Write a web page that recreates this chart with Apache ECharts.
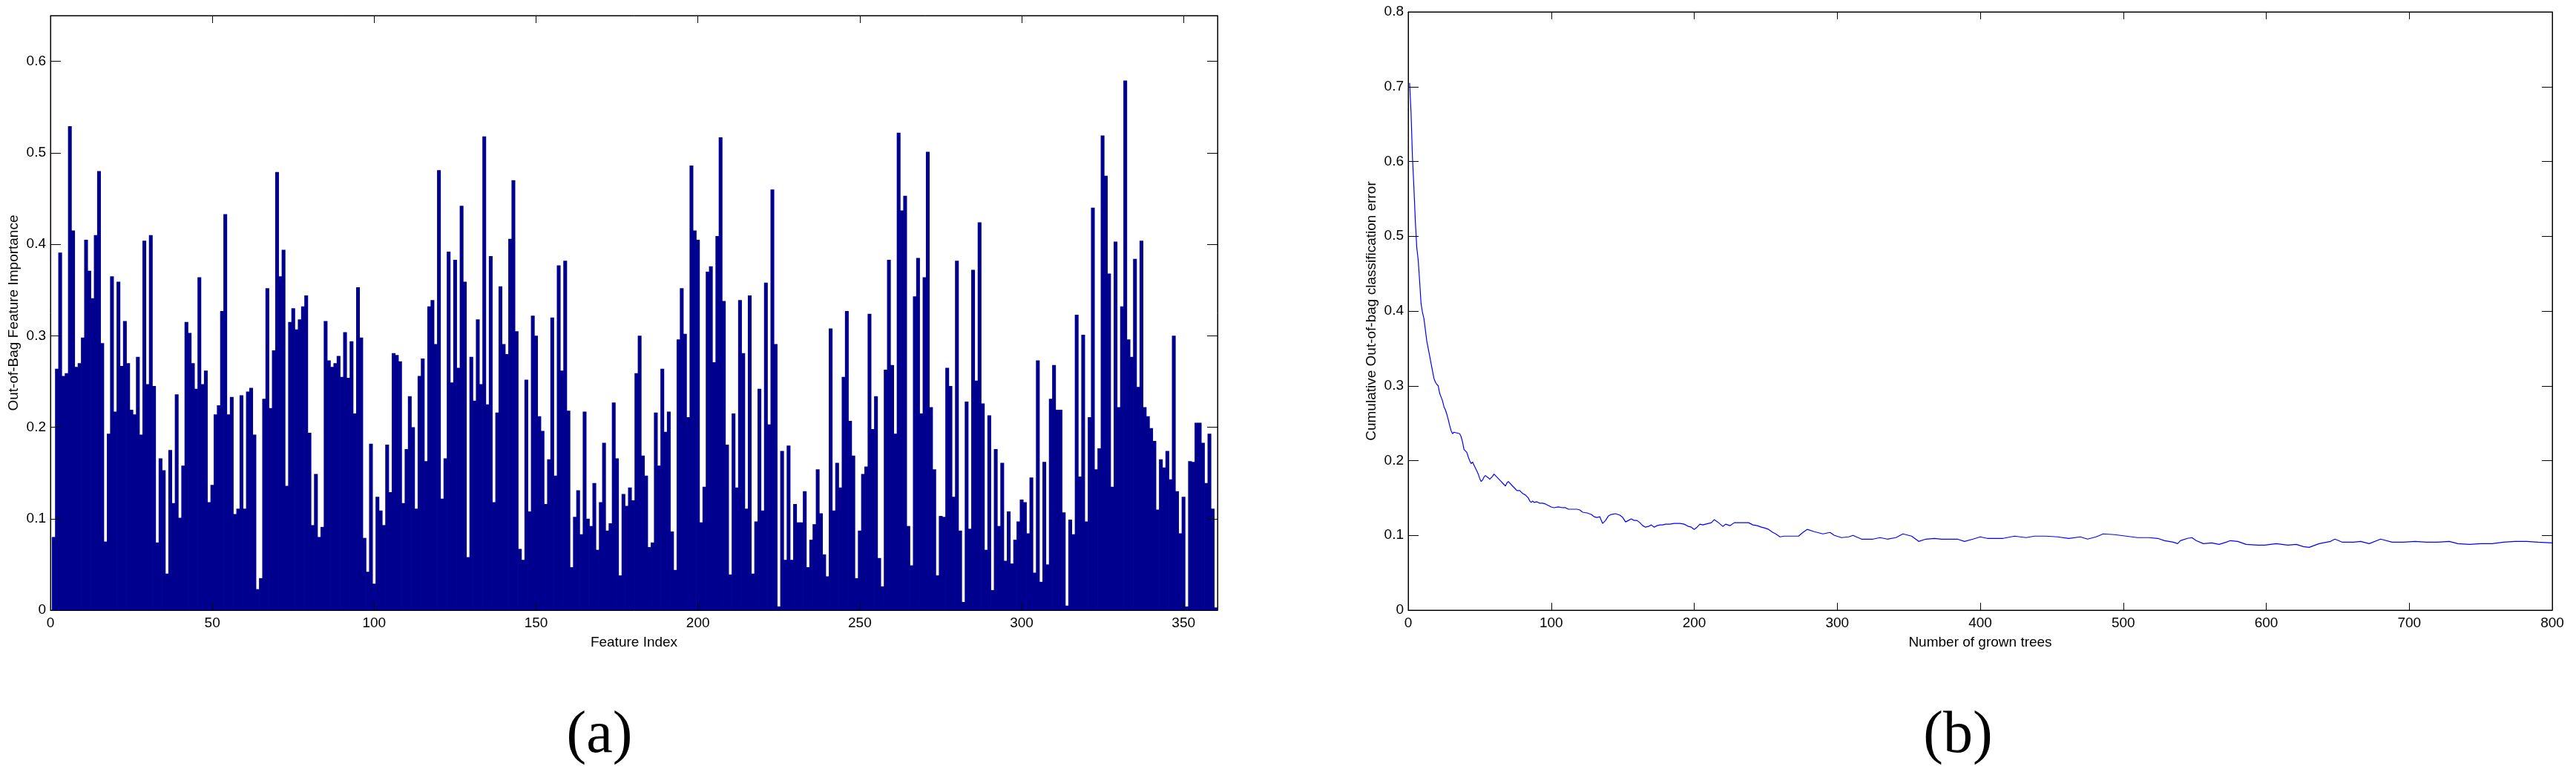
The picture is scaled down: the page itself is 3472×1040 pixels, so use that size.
<!DOCTYPE html>
<html>
<head>
<meta charset="utf-8">
<script src="https://cdn.jsdelivr.net/npm/echarts/dist/echarts.min.js"></script>
<style>
html,body{margin:0;padding:0;background:#fff;}
#chart{width:3472px;height:1040px;}
</style>
</head>
<body>
<div id="chart"></div>
<script>
// ---- Panel (a): Out-of-Bag feature importance, features 1..360 ----
const importance = [
0.080,0.264,0.391,0.256,0.259,0.529,0.415,0.266,0.270,0.298,
0.405,0.371,0.341,0.410,0.480,0.292,0.075,0.193,0.365,0.217,
0.359,0.267,0.316,0.270,0.219,0.214,0.277,0.192,0.404,0.247,
0.410,0.245,0.074,0.166,0.153,0.040,0.175,0.117,0.236,0.101,
0.158,0.315,0.303,0.270,0.242,0.364,0.247,0.262,0.118,0.137,
0.214,0.224,0.327,0.433,0.214,0.233,0.105,0.111,0.235,0.111,
0.239,0.243,0.192,0.023,0.035,0.231,0.352,0.221,0.284,0.479,
0.365,0.394,0.136,0.315,0.330,0.307,0.318,0.332,0.344,0.194,
0.093,0.149,0.080,0.091,0.316,0.273,0.266,0.270,0.278,0.255,
0.304,0.254,0.294,0.215,0.353,0.298,0.079,0.042,0.182,0.029,
0.124,0.109,0.093,0.181,0.129,0.281,0.279,0.272,0.117,0.176,
0.234,0.200,0.111,0.256,0.275,0.163,0.332,0.339,0.291,0.481,
0.122,0.166,0.392,0.249,0.383,0.265,0.442,0.359,0.058,0.277,
0.229,0.318,0.247,0.518,0.225,0.387,0.118,0.216,0.354,0.291,
0.280,0.406,0.470,0.305,0.067,0.055,0.252,0.108,0.322,0.300,
0.212,0.196,0.116,0.165,0.320,0.147,0.377,0.262,0.382,0.218,
0.047,0.102,0.131,0.083,0.217,0.100,0.092,0.139,0.066,0.118,
0.183,0.087,0.095,0.227,0.166,0.038,0.127,0.114,0.134,0.120,
0.259,0.300,0.169,0.147,0.069,0.074,0.216,0.158,0.264,0.195,
0.217,0.086,0.044,0.296,0.352,0.302,0.211,0.486,0.415,0.405,
0.096,0.135,0.370,0.376,0.271,0.409,0.517,0.338,0.181,0.039,
0.215,0.134,0.339,0.281,0.111,0.344,0.040,0.097,0.242,0.109,
0.358,0.203,0.460,0.291,0.004,0.174,0.055,0.180,0.055,0.116,
0.096,0.096,0.130,0.047,0.077,0.094,0.154,0.106,0.061,0.037,
0.308,0.109,0.161,0.134,0.255,0.327,0.207,0.169,0.035,0.087,
0.149,0.157,0.324,0.198,0.234,0.057,0.026,0.263,0.383,0.268,
0.193,0.522,0.437,0.453,0.092,0.049,0.343,0.385,0.215,0.364,
0.501,0.222,0.154,0.038,0.103,0.102,0.265,0.245,0.124,0.382,
0.087,0.009,0.228,0.089,0.372,0.251,0.424,0.226,0.066,0.213,
0.022,0.176,0.092,0.161,0.054,0.108,0.051,0.077,0.097,0.121,
0.118,0.084,0.145,0.041,0.273,0.031,0.162,0.050,0.231,0.268,
0.219,0.219,0.107,0.005,0.099,0.083,0.323,0.146,0.301,0.097,
0.211,0.440,0.154,0.177,0.519,0.475,0.368,0.135,0.403,0.222,
0.332,0.579,0.296,0.277,0.384,0.244,0.404,0.222,0.212,0.199,
0.185,0.110,0.165,0.156,0.174,0.143,0.300,0.130,0.084,0.124,
0.004,0.163,0.162,0.205,0.205,0.183,0.139,0.193,0.111,0.003
];
const featureIndex = importance.map((v, i) => i + 1);
const importanceTicks = [0, 0.1, 0.2, 0.3, 0.4, 0.5, 0.6];
const featureTicks = [0, 50, 100, 150, 200, 250, 300, 350];

// ---- Panel (b): cumulative OOB classification error vs number of trees ----
const oobTrees = [
1,2,3,4,5,6,7,8,9,10,11,12,13,14,15,16,17,18,19,20,
21,22,23,24,25,26,27,28,29,30,31,32,33,34,35,36,37,38,39,40,
41,42,43,44,45,46,47,48,49,50,51,52,53,54,55,56,57,58,59,60,
61,62,63,64,65,66,67,68,69,70,71,72,73,74,75,76,77,78,79,80,
81,82,83,84,85,86,87,88,89,90,91,92,93,94,95,96,97,98,99,100,
102,105,108,110,112,115,118,120,122,125,128,130,132,134,135,136,138,140,142,145,
148,150,152,154,156,158,160,162,164,166,168,170,172,174,176,178,180,183,186,190,
193,196,198,200,202,204,206,212,214,217,220,222,225,228,233,238,241,244,247,249,
252,255,257,260,263,268,273,276,279,284,290,295,298,303,308,311,317,325,330,335,
341,346,352,357,362,368,373,378,384,389,395,400,405,411,416,424,432,438,446,454,
462,470,475,481,486,494,502,510,518,524,529,535,538,540,545,548,551,556,562,567,
572,575,580,586,594,599,607,615,621,626,630,637,645,648,653,661,666,672,680,688,
696,704,712,720,728,734,742,750,758,766,774,782,790,800
];
const oobError = [
0.705,0.665,0.605,0.565,0.520,0.485,0.468,0.440,0.410,0.398,0.390,0.375,0.360,0.350,0.340,0.330,0.320,0.310,0.305,0.302,
0.300,0.290,0.285,0.280,0.272,0.268,0.262,0.255,0.247,0.240,0.236,0.238,0.239,0.237,0.236,0.236,0.232,0.225,0.215,0.213,
0.211,0.205,0.200,0.196,0.198,0.194,0.190,0.186,0.182,0.176,0.172,0.174,0.178,0.180,0.179,0.177,0.175,0.176,0.179,0.182,
0.180,0.178,0.176,0.174,0.172,0.170,0.168,0.166,0.170,0.172,0.171,0.168,0.166,0.164,0.162,0.160,0.159,0.160,0.158,0.156,
0.155,0.154,0.152,0.150,0.146,0.144,0.146,0.144,0.143,0.145,0.144,0.143,0.142,0.143,0.143,0.142,0.141,0.140,0.139,0.138,
0.137,0.138,0.137,0.137,0.135,0.135,0.135,0.134,0.131,0.130,0.128,0.125,0.124,0.125,0.120,0.116,0.120,0.126,0.128,0.129,
0.127,0.124,0.118,0.120,0.122,0.120,0.120,0.117,0.113,0.111,0.112,0.114,0.111,0.113,0.114,0.114,0.115,0.115,0.116,0.116,
0.115,0.112,0.111,0.108,0.111,0.115,0.114,0.117,0.121,0.117,0.112,0.115,0.113,0.117,0.117,0.117,0.114,0.113,0.111,0.110,
0.108,0.104,0.102,0.098,0.099,0.099,0.099,0.104,0.108,0.105,0.102,0.104,0.100,0.097,0.098,0.100,0.095,0.095,0.097,0.095,
0.097,0.102,0.099,0.092,0.095,0.096,0.095,0.095,0.095,0.092,0.095,0.098,0.096,0.096,0.096,0.099,0.097,0.099,0.099,0.098,
0.096,0.098,0.095,0.098,0.102,0.101,0.099,0.097,0.097,0.096,0.093,0.091,0.089,0.093,0.096,0.097,0.093,0.089,0.090,0.088,
0.091,0.093,0.092,0.088,0.087,0.087,0.089,0.087,0.088,0.085,0.084,0.089,0.092,0.095,0.091,0.091,0.092,0.089,0.095,0.091,
0.091,0.092,0.091,0.091,0.092,0.089,0.088,0.089,0.089,0.091,0.092,0.092,0.091,0.090
];
const treeTicks = [0, 100, 200, 300, 400, 500, 600, 700, 800];
const errorTicks = [0, 0.1, 0.2, 0.3, 0.4, 0.5, 0.6, 0.7, 0.8];

const FONT = '"Liberation Sans", Arial, Helvetica, sans-serif';
const txt = {color: '#000', fontFamily: FONT, fontSize: 19};

const GA = {left: 68, top: 21, width: 1573, height: 801};
const GB = {left: 1898, top: 16, width: 1542, height: 806};
const FEAT_MAX = 360.5;
const BAR_COLOR = '#00008F';

function xAx(grid, pos, min, max, interval, showLabels, showMax, name) {
  return {
    type: 'value', gridIndex: grid, position: pos, min: min, max: max, interval: interval,
    axisLine: {show: true, onZero: false, lineStyle: {color: '#000', width: 1}},
    axisTick: {show: true, inside: true, length: 10, lineStyle: {color: '#000'}},
    axisLabel: Object.assign({show: showLabels, margin: 8, showMinLabel: true, showMaxLabel: showMax}, txt),
    splitLine: {show: false},
    name: name || '', nameLocation: 'middle', nameGap: 34,
    nameTextStyle: txt, z: 5
  };
}
function yAx(grid, pos, min, max, interval, showLabels, showMax, name) {
  return {
    type: 'value', gridIndex: grid, position: pos, min: min, max: max, interval: interval,
    axisLine: {show: true, onZero: false, lineStyle: {color: '#000', width: 1}},
    axisTick: {show: true, inside: true, length: 14, lineStyle: {color: '#000'}},
    axisLabel: Object.assign({show: showLabels, margin: 6, showMinLabel: true, showMaxLabel: showMax}, txt),
    splitLine: {show: false},
    name: name || '', nameLocation: 'middle', nameGap: 40,
    nameTextStyle: txt, z: 5
  };
}

// Each bar spans one feature unit on the x scale; drawn through the axis scale (api.coord / api.size).
function renderFeatureBar(params, api) {
  const k = api.value(0);
  const v = api.value(1);
  const top = api.coord([k, v]);
  const base = api.coord([k, 0]);
  const w = api.size([1, 0])[0];
  return {
    type: 'rect',
    shape: {x: top[0] - w / 2 - 0.35, y: top[1], width: w + 0.7, height: base[1] - top[1]},
    style: {fill: BAR_COLOR},
    silent: true
  };
}

const chart = echarts.init(document.getElementById('chart'), null, {renderer: 'canvas'});
chart.setOption({
  animation: false,
  backgroundColor: '#fff',
  grid: [
    Object.assign({show: true, borderColor: '#000', borderWidth: 1, backgroundColor: 'transparent'}, GA),
    Object.assign({show: true, borderColor: '#000', borderWidth: 1, backgroundColor: 'transparent'}, GB)
  ],
  xAxis: [
    xAx(0, 'bottom', featureTicks[0], FEAT_MAX, featureTicks[1] - featureTicks[0], true, false, 'Feature Index'),
    xAx(0, 'top', featureTicks[0], FEAT_MAX, featureTicks[1] - featureTicks[0], false, false),
    xAx(1, 'bottom', treeTicks[0], treeTicks[treeTicks.length - 1], treeTicks[1] - treeTicks[0], true, true, 'Number of grown trees'),
    xAx(1, 'top', treeTicks[0], treeTicks[treeTicks.length - 1], treeTicks[1] - treeTicks[0], false, true)
  ],
  yAxis: [
    yAx(0, 'left', importanceTicks[0], 0.65, 0.1, true, false, 'Out-of-Bag Feature Importance'),
    yAx(0, 'right', importanceTicks[0], 0.65, 0.1, false, false),
    yAx(1, 'left', errorTicks[0], errorTicks[errorTicks.length - 1], 0.1, true, true, 'Cumulative Out-of-bag classification error'),
    yAx(1, 'right', errorTicks[0], errorTicks[errorTicks.length - 1], 0.1, false, true)
  ],
  series: [
    {
      type: 'custom', xAxisIndex: 0, yAxisIndex: 0,
      data: featureIndex.map((k, i) => [k, importance[i]]),
      renderItem: renderFeatureBar,
      clip: true,
      encode: {x: 0, y: 1}
    },
    {
      type: 'line', xAxisIndex: 2, yAxisIndex: 2,
      data: oobTrees.map((t, i) => [t, oobError[i]]),
      showSymbol: false, symbol: 'none',
      lineStyle: {color: '#0000FF', width: 1.2},
      itemStyle: {color: '#0000FF'},
      emphasis: {disabled: true}
    }
  ],
  graphic: [
    {type: 'text', x: 808, y: 992, style: {text: '(a)', font: '80px "Liberation Serif", "Times New Roman", serif', fill: '#000', textAlign: 'center', textVerticalAlign: 'middle'}},
    {type: 'text', x: 2639, y: 992, style: {text: '(b)', font: '80px "Liberation Serif", "Times New Roman", serif', fill: '#000', textAlign: 'center', textVerticalAlign: 'middle'}}
  ]
});
</script>
</body>
</html>
